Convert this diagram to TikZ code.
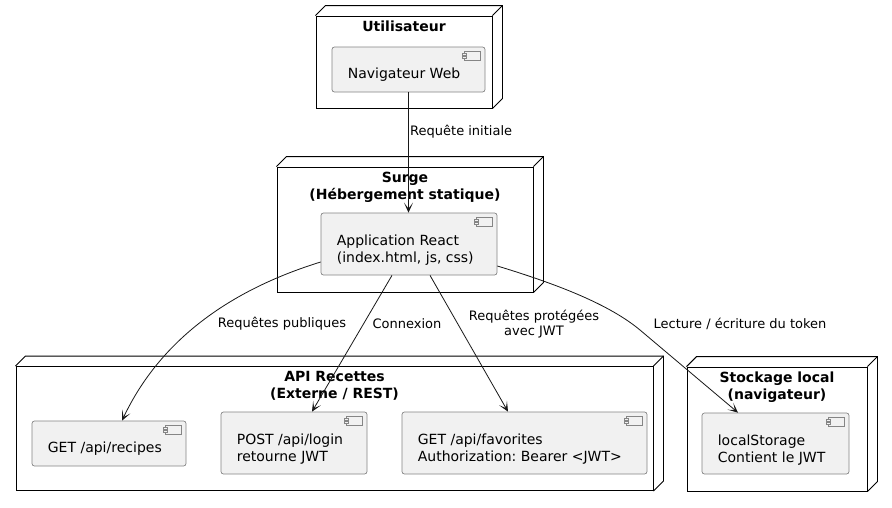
\documentclass[tikz,border=0pt]{standalone}
\usepackage{fontspec}
\setmainfont{DejaVu Sans}
\frenchspacing
\usetikzlibrary{arrows.meta,calc}
\definecolor{compfill}{HTML}{F1F1F1}
\definecolor{compline}{HTML}{858585}
\definecolor{ink}{HTML}{181818}
\tikzset{
  dnode/.style={draw=black, line width=0.9pt, fill=white, inner sep=0, rectangle},
  dtitle/.style={font=\fontsize{14}{17}\selectfont\bfseries, align=center, inner sep=0, anchor=north},
  comp/.style={draw=compline, line width=0.7pt, fill=compfill, rounded corners=2.5pt, inner sep=0, rectangle},
  ctext/.style={font=\fontsize{14}{17}\selectfont, align=left, inner sep=0, anchor=north west},
  elabel/.style={font=\fontsize{13}{15}\selectfont, inner sep=0, align=center},
  arr/.style={draw=ink, line width=0.8pt, -{Stealth[length=10pt,width=9pt,inset=6pt]}},
}
\newcommand{\threed}[1]{%
  \draw[line width=0.9pt] (#1.north west) -- ++(10,-10) -- ([shift={(10,-10)}]#1.north east)
    -- ([shift={(10,-10)}]#1.south east) -- (#1.south east);
  \draw[line width=0.9pt] (#1.north east) -- ++(10,-10);
}
\newcommand{\compicon}[1]{%
  \draw[compline, line width=0.6pt, fill=compfill] ([shift={(-21,5)}]#1.north east) rectangle ([shift={(-5,14)}]#1.north east);
  \draw[compline, line width=0.6pt, fill=compfill] ([shift={(-23,7)}]#1.north east) rectangle ([shift={(-19,9)}]#1.north east);
  \draw[compline, line width=0.6pt, fill=compfill] ([shift={(-23,10)}]#1.north east) rectangle ([shift={(-19,12)}]#1.north east);
}
\begin{document}
\begin{tikzpicture}[x=1pt,y=-1pt]
\fill[white] (0,0) rectangle (892,507);
\useasboundingbox (0,0) rectangle (892,507);

% deployment nodes
\node[dnode, minimum width=176pt, minimum height=92pt] (user) at (404,62) {};
\threed{user}
\node[dtitle] (usert) at ([yshift=-5.5pt]user.north) {Utilisateur};

\node[dnode, minimum width=256pt, minimum height=125pt] (surge) at (405,229.5) {};
\threed{surge}
\node[dtitle] (surget) at ([yshift=-5.5pt]surge.north) {Surge\\(Hébergement statique)};

\node[dnode, minimum width=637pt, minimum height=124pt] (api) at (334.5,428.5) {};
\threed{api}
\node[dtitle] (apit) at ([yshift=-5.5pt]api.north) {API Recettes\\(Externe / REST)};

\node[dnode, minimum width=180pt, minimum height=124pt] (store) at (777,429) {};
\threed{store}
\node[dtitle] (storet) at ([yshift=-5.5pt]store.north) {Stockage local\\(navigateur)};

% components
\node[comp, minimum width=153pt, minimum height=45pt] (nav) at (408.5,69.5) {};
\compicon{nav}
\node[ctext] (navt) at ([shift={(16,21.5)}]nav.north west) {Navigateur Web};

\node[comp, minimum width=176pt, minimum height=62pt] (app) at (409,244) {};
\compicon{app}
\node[ctext] (appt) at ([shift={(16,22.5)}]app.north west) {Application React\\(index.html, js, css)};

\node[comp, minimum width=154pt, minimum height=45pt] (recipes) at (109,443.5) {};
\compicon{recipes}
\node[ctext] (recipest) at ([shift={(16,21.5)}]recipes.north west) {GET /api/recipes};

\node[comp, minimum width=146pt, minimum height=62pt] (login) at (294,443) {};
\compicon{login}
\node[ctext] (logint) at ([shift={(16,22.5)}]login.north west) {POST /api/login\\retourne JWT};

\node[comp, minimum width=245pt, minimum height=62pt] (fav) at (524.5,443) {};
\compicon{fav}
\node[ctext] (favt) at ([shift={(16,22.5)}]fav.north west) {GET /api/favorites\\Authorization: Bearer <JWT>};

\node[comp, minimum width=147pt, minimum height=61pt] (ls) at (775.5,443.5) {};
\compicon{ls}
\node[ctext] (lst) at ([shift={(16,22.5)}]ls.north west) {localStorage\\Contient le JWT};

% connectors
\draw[arr] (nav.south) -- (nav.south |- app.north);
\node[elabel, anchor=west] (l1) at (410,132) {Requête initiale};

\draw[arr] ([yshift=-18pt]app.west) .. controls (230,290) and (160,340) .. ([xshift=13pt]recipes.north);
\node[elabel] (l2) at (282,324) {Requêtes publiques};

\draw[arr] ([xshift=-17pt]app.south) -- ([xshift=18pt]login.north);
\node[elabel] (l3) at (407,324) {Connexion};

\draw[arr] ([xshift=21pt]app.south) -- ([xshift=-16.5pt]fav.north);
\node[elabel] (l4) at (534,324.5) {Requêtes protégées\\avec JWT};

\draw[arr] ([yshift=-22pt]app.east) .. controls (560,285) and (610,305) .. (640,330) -- ([xshift=-37.5pt]ls.north);
\node[elabel] (l5) at (740,324) {Lecture / écriture du token};
\end{tikzpicture}
\end{document}
